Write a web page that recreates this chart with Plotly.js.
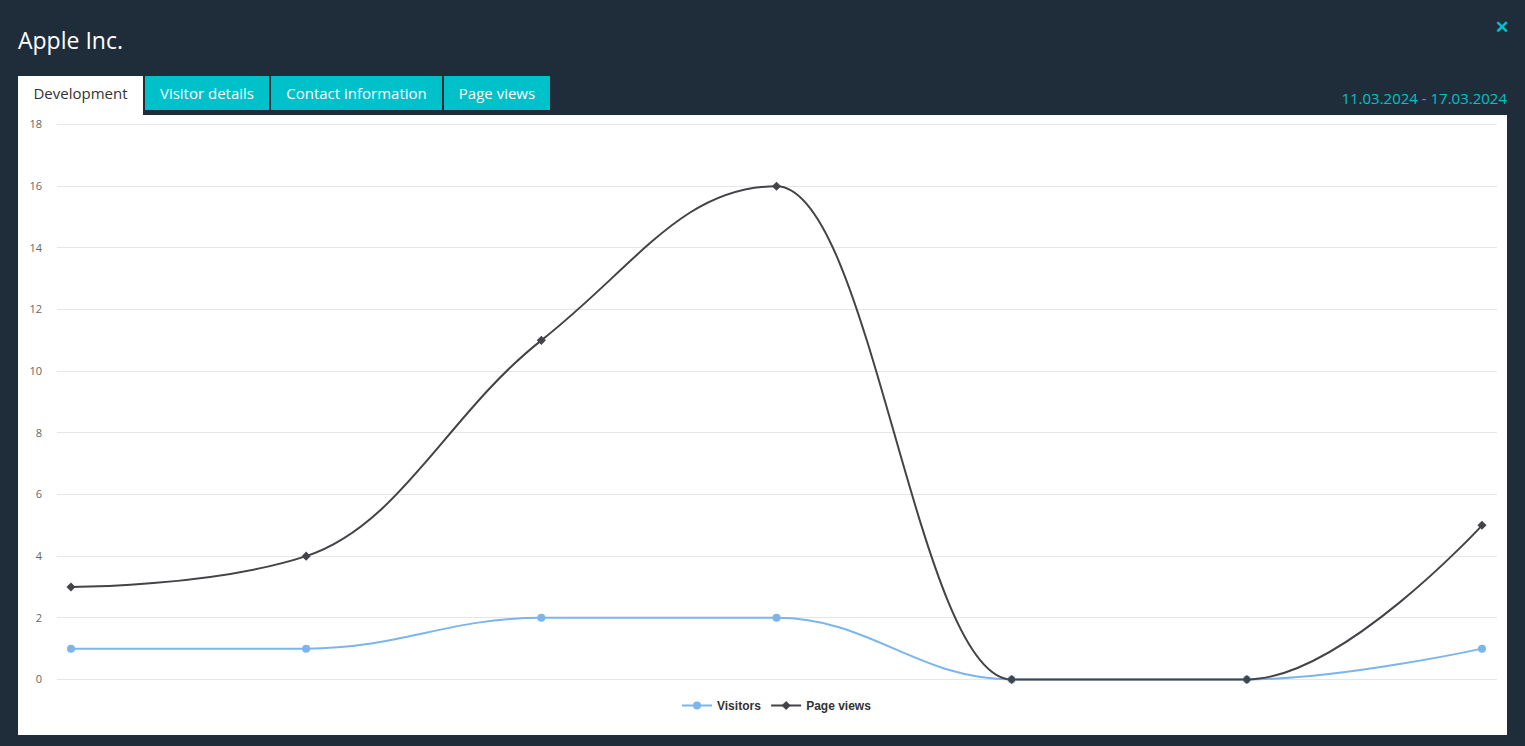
<!DOCTYPE html>
<html>
<head>
<meta charset="utf-8">
<script src="https://cdn.plot.ly/plotly-3.0.1.min.js"></script>
<style>
  html, body { margin: 0; padding: 0; width: 1525px; height: 746px; background: #1f2d3b; overflow: hidden; font-family: "Open Sans", "Noto Sans", sans-serif; }
  #title { position: absolute; left: 18px; top: 24px; color: #ffffff; font-size: 23px; line-height: 32px; }
  #close { position: absolute; left: 1495px; top: 16px; color: #00c1c9; font-size: 17px; font-weight: bold; line-height: 22px; }
  #date { position: absolute; right: 18px; top: 87px; color: #00c1c9; font-size: 15px; line-height: 22px; }
  .tab { position: absolute; top: 76px; height: 34px; line-height: 34px; text-align: center; color: #ffffff; background: #00c1c9; font-size: 15px; }
  .tab.active { background: #ffffff; color: #333333; height: 39px; }
  #panel { position: absolute; left: 18px; top: 115px; width: 1489px; height: 620px; background: #ffffff; }
  #chart { position: absolute; left: 0; top: 0; width: 1489px; height: 620px; }
</style>
</head>
<body>
<div id="title">Apple Inc.</div>
<div id="close">&#x2715;</div>
<div class="tab active" style="left:18px;width:125px;">Development</div>
<div class="tab" style="left:145px;width:124px;">Visitor details</div>
<div class="tab" style="left:271px;width:171px;">Contact information</div>
<div class="tab" style="left:444px;width:106px;">Page views</div>
<div id="date">11.03.2024 - 17.03.2024</div>
<div id="panel"><div id="chart"></div></div>
<script>
const categories = ["11.03.2024", "12.03.2024", "13.03.2024", "14.03.2024", "15.03.2024", "16.03.2024", "17.03.2024"];
const visitors = [1, 1, 2, 2, 0, 0, 1];
const pageViews = [3, 4, 11, 16, 0, 0, 5];
const yTicks = [0, 2, 4, 6, 8, 10, 12, 14, 16, 18];

const xIndex = categories.map((c, i) => i);

// Smooth (Highcharts-style) spline path in data coordinates, built from the data values
function splinePath(ys) {
  const sm = 1.5, den = sm + 1;
  const rc = [];
  const lc = [];
  for (let i = 0; i < ys.length; i++) {
    const x = xIndex[i], y = ys[i];
    if (i > 0 && i < ys.length - 1) {
      const lx = xIndex[i - 1], ly = ys[i - 1], nx = xIndex[i + 1], ny = ys[i + 1];
      let lcx = (sm * x + lx) / den, lcy = (sm * y + ly) / den;
      let rcx = (sm * x + nx) / den, rcy = (sm * y + ny) / den;
      let corr = 0;
      if (rcx !== lcx) corr = ((rcy - lcy) * (rcx - x)) / (rcx - lcx) + y - rcy;
      lcy += corr; rcy += corr;
      if (lcy > ly && lcy > y) { lcy = Math.max(ly, y); rcy = 2 * y - lcy; }
      else if (lcy < ly && lcy < y) { lcy = Math.min(ly, y); rcy = 2 * y - lcy; }
      if (rcy > ny && rcy > y) { rcy = Math.max(ny, y); lcy = 2 * y - rcy; }
      else if (rcy < ny && rcy < y) { rcy = Math.min(ny, y); lcy = 2 * y - rcy; }
      lc[i] = [lcx, lcy]; rc[i] = [rcx, rcy];
    } else {
      lc[i] = [x, y]; rc[i] = [x, y];
    }
  }
  let d = "M" + xIndex[0] + "," + ys[0];
  for (let i = 1; i < ys.length; i++) {
    d += " C" + rc[i - 1][0] + "," + rc[i - 1][1] + " " + lc[i][0] + "," + lc[i][1] + " " + xIndex[i] + "," + ys[i];
  }
  return d;
}

const series = [
  { name: "Visitors", values: visitors, color: "#7cb5ec", symbol: "circle", size: 8 },
  { name: "Page views", values: pageViews, color: "#434348", symbol: "diamond", size: 7 }
];

const traces = [];
const shapes = [];
series.forEach(s => {
  shapes.push({
    type: "path", xref: "x", yref: "y", layer: "between",
    path: splinePath(s.values),
    line: { color: s.color, width: 2 }
  });
  traces.push({
    x: xIndex, y: s.values, name: s.name, type: "scatter", mode: "markers",
    marker: { color: s.color, size: s.size, symbol: s.symbol },
    showlegend: false, legendgroup: s.name, hoverinfo: "skip", cliponaxis: false
  });
});
// legend entries
series.forEach(s => {
  traces.push({
    x: [null], y: [null], name: s.name, type: "scatter", mode: "lines+markers",
    line: { color: s.color, width: 2 },
    marker: { color: s.color, size: s.size, symbol: s.symbol },
    showlegend: true, legendgroup: s.name, hoverinfo: "skip"
  });
});

const layout = {
  width: 1489, height: 620,
  margin: { l: 39, r: 10, t: 8.46, b: 54.46, pad: 0 },
  paper_bgcolor: "#ffffff", plot_bgcolor: "#ffffff",
  showlegend: true,
  shapes: shapes,
  legend: {
    orientation: "h", x: 0.5, xanchor: "center", y: -0.0439, yanchor: "middle",
    font: { family: "Liberation Sans, Arial, sans-serif", size: 12, color: "#333333", weight: "bold" },
    itemwidth: 30, tracegroupgap: 0
  },
  xaxis: {
    type: "linear", range: [-0.0595, 6.0638], showgrid: false, zeroline: false,
    tickvals: xIndex, ticktext: categories,
    showticklabels: false, showline: false, ticks: "", fixedrange: true
  },
  yaxis: {
    range: [-0.05, 18.05], tickvals: yTicks, ticktext: yTicks.map(String),
    showgrid: true, gridcolor: "#e6e6e6", gridwidth: 1, zeroline: false, showline: false,
    ticks: "", ticklabelstandoff: 14,
    tickfont: { family: "Open Sans, sans-serif", size: 11, color: "#666666" }, fixedrange: true
  },
  font: { family: "Open Sans, sans-serif" }
};

Plotly.newPlot("chart", traces, layout, { displayModeBar: false, staticPlot: true });
</script>
</body>
</html>
